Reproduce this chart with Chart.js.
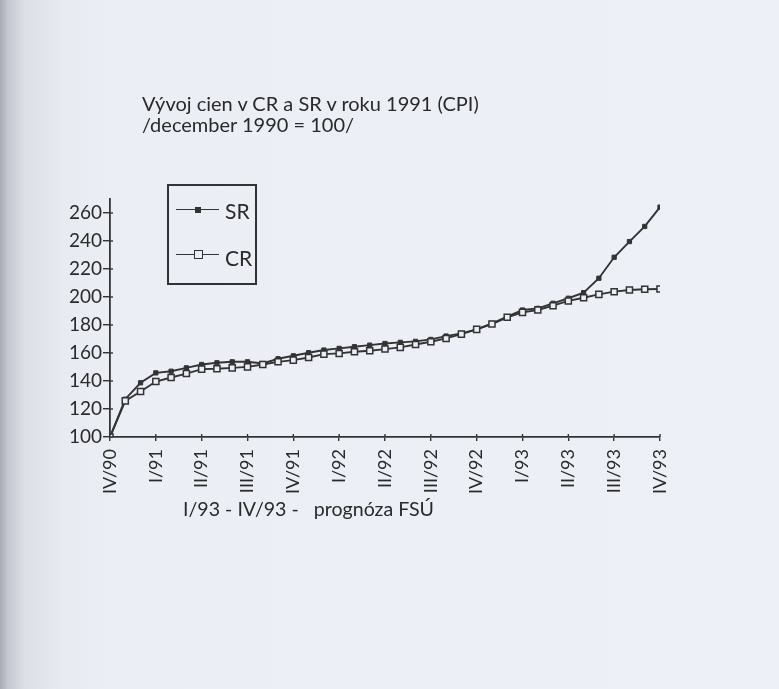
<!DOCTYPE html>
<html>
<head>
<meta charset="utf-8">
<script src="https://cdn.jsdelivr.net/npm/chart.js@4"></script>
<style>
  html, body { margin:0; padding:0; }
  body {
    width:779px; height:689px; position:relative; overflow:hidden;
    background: linear-gradient(to right, #a6aab2 0px, #c3c6ce 7px, #dcdfe6 25px, #e8eaf1 60px, #eceef5 110px, #eef0f7 100%);
    font-family: Lato, "Open Sans", sans-serif; color:#2a2a2a;
  }
  #c { position:absolute; left:0; top:0; }
  .t { position:absolute; white-space:pre; line-height:1; font-size:20px; color:#2a2a2a; }
  #legend { position:absolute; left:167px; top:184px; width:90px; height:101px; box-sizing:border-box; border:2px solid #333; }
  .ll { position:absolute; height:0; border-top:1.8px solid #333; }
  .mk { position:absolute; box-sizing:border-box; }
  .lt { position:absolute; font-size:21px; line-height:1; color:#2a2a2a; }
</style>
</head>
<body>
<canvas id="c" width="779" height="689"></canvas>
<div class="t" style="left:142px; top:93px;">Vývoj cien v CR a SR v roku 1991 (CPI)</div>
<div class="t" style="left:142px; top:114px;">/december 1990 = 100/</div>
<div class="t" style="left:183px; top:499px; font-size:19.6px;">I/93 - IV/93 -   prognóza FSÚ</div>
<div id="legend">
  <div class="ll" style="left:7px; top:23px; width:43px;"></div>
  <div class="mk" style="left:26px; top:21px; width:6px; height:6px; background:#333;"></div>
  <div class="lt" style="left:56px; top:14px;">SR</div>
  <div class="ll" style="left:7px; top:68px; width:43px;"></div>
  <div class="mk" style="left:25px; top:64px; width:9px; height:9px; background:#eceef5; border:1.5px solid #333;"></div>
  <div class="lt" style="left:56px; top:61px;">CR</div>
</div>
<script>
// Quarter tick labels (every third month, Dec 1990 .. Dec 1993)
const quarterLabels = ['IV/90','I/91','II/91','III/91','IV/91','I/92','II/92','III/92','IV/92','I/93','II/93','III/93','IV/93'];
// Y tick values
const yTickValues = [100,120,140,160,180,200,220,240,260];
// Monthly CPI values, December 1990 = 100
const srValues = [100,127,138.7,145.8,147,149.4,151.8,153,153.7,153.7,152.5,155.9,158,160.2,162.1,163.3,164.5,165.6,166.8,167.6,168.3,169.7,172.1,174,176.9,181.2,185.9,190.7,191.9,195.5,199.1,203.1,213.4,228.4,239.6,250.4,264.2];
const crValues = [100,125.8,132.5,139.6,142.5,145.3,148.5,148.7,149.4,150.1,151.8,153.7,154.9,156.8,159.2,159.7,160.9,161.6,162.8,164,166.1,168,170.4,173.5,176.9,180.7,185.5,189,190.7,193.8,197.2,199.5,201.9,203.8,205,205.5,205.7];

const ink = '#333333';
const paper = '#eceef5';
const toPts = arr => arr.map((v, i) => ({x: i, y: v}));

const innerTicks = {
  id: 'innerTicks',
  afterDraw(chart) {
    const ctx = chart.ctx, xs = chart.scales.x, ys = chart.scales.y, a = chart.chartArea;
    ctx.save();
    ctx.strokeStyle = ink; ctx.lineWidth = 1.4;
    ys.ticks.forEach(t => {
      const y = ys.getPixelForValue(t.value);
      ctx.beginPath(); ctx.moveTo(a.left, y); ctx.lineTo(a.left + 3, y); ctx.stroke();
    });
    xs.ticks.forEach(t => {
      const x = xs.getPixelForValue(t.value);
      ctx.beginPath(); ctx.moveTo(x, a.bottom); ctx.lineTo(x, a.bottom - 3); ctx.stroke();
    });
    ctx.restore();
  }
};

new Chart(document.getElementById('c'), {
  type: 'line',
  data: {
    datasets: [
      { label: 'SR', data: toPts(srValues), borderColor: ink, borderWidth: 1.9, pointStyle: 'rect',
        pointRadius: 3, pointBackgroundColor: ink, pointBorderColor: ink, pointBorderWidth: 1, order: 1, tension: 0 },
      { label: 'CR', data: toPts(crValues), borderColor: ink, borderWidth: 1.9, pointStyle: 'rect',
        pointRadius: 4.3, pointBackgroundColor: paper, pointBorderColor: ink, pointBorderWidth: 1.5, order: 0, tension: 0 }
    ]
  },
  options: {
    responsive: false, animation: false,
    layout: { padding: { left: 0, top: 199, right: 119, bottom: 190 } },
    plugins: { legend: { display: false }, tooltip: { enabled: false } },
    scales: {
      x: {
        type: 'linear', min: 0, max: 36,
        afterFit(s) { s.height = 62; },
        ticks: { stepSize: 3, autoSkip: false, maxRotation: 90, minRotation: 90, padding: 8,
          color: '#2a2a2a', font: { family: 'Lato', size: 18 },
          callback: v => quarterLabels[Math.round(v / 3)] },
        grid: { drawOnChartArea: false, tickLength: 4, color: ink, lineWidth: 1.4 },
        border: { color: ink, width: 1.8 }
      },
      y: {
        min: 100, max: 270,
        afterFit(s) { s.width = 110; },
        afterBuildTicks(s) { s.ticks = yTickValues.map(v => ({ value: v })); },
        ticks: { padding: 1, color: '#2a2a2a', font: { family: 'Lato', size: 19 } },
        grid: { drawOnChartArea: false, tickLength: 7, color: ink, lineWidth: 1.4 },
        border: { color: ink, width: 1.8 }
      }
    }
  },
  plugins: [innerTicks]
});
</script>
</body>
</html>
